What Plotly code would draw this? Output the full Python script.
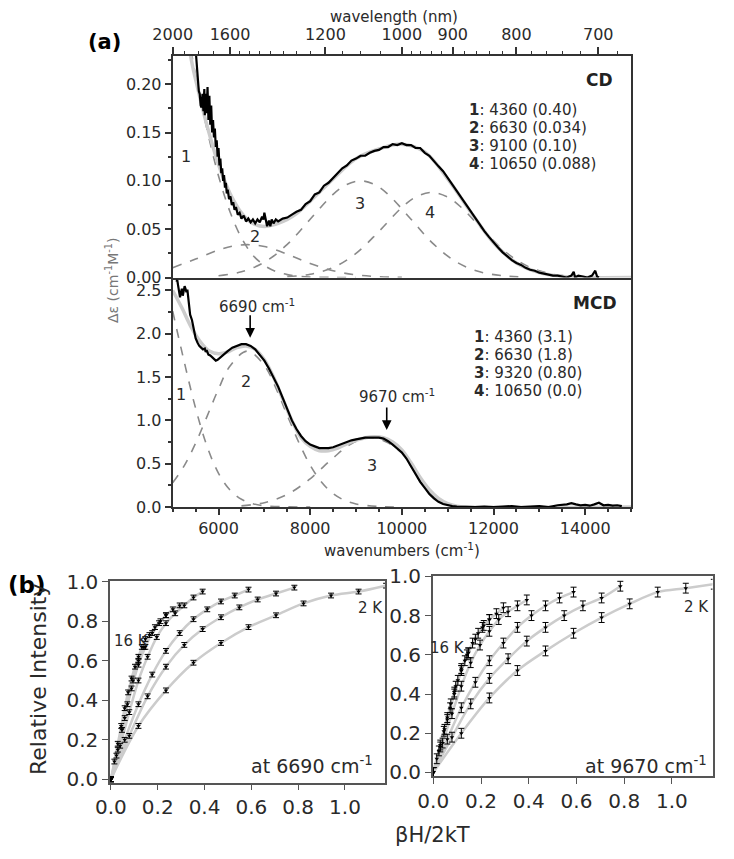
import plotly.graph_objects as go

# page is 734x859; the browser adds an 8 px body margin, so the figure is 16 px smaller
PAGE_W, PAGE_H = 734, 859
OFF = 8
W, H = PAGE_W - 2 * OFF, PAGE_H - 2 * OFF

# ---------------- panel (a) : CD ----------------
cd_wn = [5510, 5530, 5550, 5570, 5590, 5610, 5630, 5650, 5670, 5690, 5700, 5720, 5740, 5760, 5780,
         5800, 5820, 5840, 5860, 5880, 5900, 5920, 5940, 5960, 5980, 6000, 6020, 6040, 6060, 6080,
         6100, 6120, 6140, 6160, 6180, 6200, 6230, 6260, 6290, 6320, 6350, 6380, 6420, 6460, 6500,
         6550, 6600, 6650, 6700, 6750, 6800, 6850, 6900, 6950, 6980, 7000, 7030, 7060, 7100, 7130,
         7160, 7200, 7250, 7300, 7400, 7500, 7600, 7700, 7800, 7900, 8000, 8100, 8200, 8300, 8400,
         8500, 8600, 8700, 8800, 8900, 9000, 9100, 9200, 9300, 9400, 9500, 9600, 9700, 9800, 9900,
         10000, 10100, 10200, 10300, 10400, 10500, 10600, 10700, 10800, 10900, 11000, 11100, 11200,
         11300, 11400, 11500, 11600, 11700, 11800, 11900, 12000, 12100, 12200, 12300, 12400, 12500,
         12600, 12700, 12800, 12900, 13000, 13100, 13200, 13300, 13400, 13500, 13600, 13700, 13750,
         13780, 13850, 13950, 14050, 14150, 14220, 14260, 14300]
cd_val = [0.230, 0.212, 0.205, 0.193, 0.190, 0.178, 0.176, 0.190, 0.172, 0.195, 0.168, 0.190, 0.170, 0.197, 0.163,
          0.188, 0.158, 0.178, 0.150, 0.163, 0.145, 0.154, 0.135, 0.142, 0.125, 0.134, 0.116, 0.123, 0.108, 0.113,
          0.100, 0.106, 0.093, 0.098, 0.087, 0.091, 0.081, 0.084, 0.075, 0.078, 0.070, 0.073, 0.065, 0.067, 0.061,
          0.064, 0.058, 0.061, 0.057, 0.060, 0.056, 0.060, 0.057, 0.063, 0.060, 0.067, 0.059, 0.053, 0.059, 0.053,
          0.060, 0.056, 0.060, 0.058, 0.061, 0.062, 0.065, 0.068, 0.070, 0.076, 0.079, 0.086, 0.088, 0.095, 0.098,
          0.103, 0.107, 0.113, 0.116, 0.121, 0.123, 0.126, 0.126, 0.129, 0.131, 0.132, 0.135, 0.135, 0.138, 0.137,
          0.139, 0.137, 0.137, 0.134, 0.134, 0.129, 0.126, 0.120, 0.115, 0.110, 0.103, 0.096, 0.089,
          0.083, 0.075, 0.068, 0.061, 0.055, 0.048, 0.042, 0.036, 0.031, 0.026, 0.022, 0.018, 0.015,
          0.013, 0.010, 0.008, 0.007, 0.005, 0.004, 0.003, 0.002, 0.002, 0.001, 0.000, 0.002, 0.006,
          0.000, 0.002, 0.001, 0.000, 0.002, 0.007, 0.001, 0.000]

cd_fit_wn = [5380, 5450, 5550, 5650, 5750, 5850, 5950, 6050, 6150, 6250, 6350, 6450, 6550, 6650, 6750,
             6850, 6950, 7050, 7150, 7300, 7500, 7700, 8000, 8500, 9000, 9500, 10000, 10500, 11000,
             11500, 12000, 12500, 13000, 13500, 14000, 15000]
cd_fit_val = [0.232, 0.215, 0.195, 0.175, 0.157, 0.140, 0.124, 0.110, 0.098, 0.087, 0.078, 0.070, 0.064, 0.059, 0.056,
              0.054, 0.053, 0.053, 0.054, 0.056, 0.060, 0.066, 0.079, 0.102, 0.123, 0.133, 0.138, 0.130, 0.102,
              0.068, 0.036, 0.015, 0.005, 0.001, 0.000, 0.000]

cd_b1_wn = [5000, 5250, 5500, 5750, 6000, 6250, 6500, 6750, 7000, 7250, 7500, 7750, 8000, 8500, 9000]
cd_b1 = [0.326, 0.270, 0.210, 0.153, 0.105, 0.068, 0.041, 0.023, 0.0125, 0.0063, 0.003, 0.0013, 0.0005, 0.0001, 0.0]
cd_b2_wn = [5000, 5500, 6000, 6300, 6630, 7000, 7500, 8000, 8500, 9000, 9500, 10000]
cd_b2 = [0.0102, 0.0191, 0.0284, 0.0324, 0.034, 0.0320, 0.0241, 0.0146, 0.0070, 0.0027, 0.0008, 0.0002]
cd_b3_wn = [6000, 6500, 7000, 7500, 8000, 8500, 8800, 9100, 9400, 9700, 10200, 10700, 11200, 11700, 12200, 12700]
cd_b3 = [0.0018, 0.0059, 0.0158, 0.0342, 0.0603, 0.086, 0.0963, 0.100, 0.0963, 0.086, 0.0603, 0.0342, 0.0158, 0.0059, 0.0018, 0.0004]
cd_b4_wn = [7500, 8000, 8500, 9000, 9500, 10000, 10300, 10650, 11000, 11300, 11800, 12300, 12800, 13300, 13800, 14300]
cd_b4 = [0.0009, 0.0034, 0.0103, 0.0249, 0.0477, 0.0724, 0.0832, 0.088, 0.0832, 0.0724, 0.0477, 0.0249, 0.0103, 0.0034, 0.0009, 0.0002]

# ---------------- panel (a) : MCD ----------------
mcd_wn = [5080, 5100, 5120, 5140, 5160, 5180, 5200, 5220, 5240, 5260, 5280, 5300, 5320, 5340, 5360, 5380,
          5420, 5460, 5500, 5540, 5580, 5620, 5660, 5700, 5720, 5740, 5780, 5820, 5860, 5900, 5940, 5980,
          6020, 6100, 6200, 6300, 6400, 6500, 6600, 6700, 6800, 6900, 7000, 7100, 7200, 7300, 7400, 7500,
          7600, 7700, 7800, 7900, 8000, 8100, 8200, 8300, 8400, 8500, 8600, 8700, 8800, 8900, 9000, 9100,
          9200, 9300, 9400, 9500, 9600, 9700, 9800, 9900, 10000, 10100, 10200, 10300, 10400, 10500, 10600,
          10700, 10800, 10900, 11000, 11100, 11200, 11400, 11600, 11800, 12000, 12200, 12400, 12600, 12800,
          13000, 13200, 13400, 13600, 13700, 13800, 13900, 14000, 14100, 14200, 14300, 14400, 14500, 14600,
          14700, 14800]
mcd_val = [2.60, 2.62, 2.55, 2.45, 2.42, 2.48, 2.52, 2.44, 2.50, 2.55, 2.52, 2.48, 2.51, 2.42, 2.30, 2.22,
           2.16, 2.04, 1.95, 1.90, 1.86, 1.84, 1.82, 1.83, 1.79, 1.81, 1.76, 1.75, 1.73, 1.71, 1.69, 1.70,
           1.72, 1.76, 1.80, 1.84, 1.86, 1.88, 1.88, 1.86, 1.82, 1.76, 1.69, 1.60, 1.50, 1.39, 1.26, 1.12,
           1.00, 0.90, 0.82, 0.76, 0.72, 0.70, 0.68, 0.68, 0.68, 0.69, 0.71, 0.73, 0.75, 0.77, 0.78, 0.79,
           0.80, 0.80, 0.80, 0.80, 0.79, 0.76, 0.72, 0.68, 0.63, 0.56, 0.47, 0.38, 0.29, 0.22, 0.15,
           0.10, 0.06, 0.035, 0.02, 0.01, 0.005, 0.002, 0.0, 0.005, 0.0, 0.005, 0.01, 0.0, 0.005,
           0.01, 0.0, 0.02, 0.03, 0.045, 0.03, 0.02, 0.025, 0.015, 0.03, 0.05, 0.02, 0.025, 0.015,
           0.02, 0.01]

mcd_fit_wn = [5000, 5200, 5400, 5600, 5800, 6000, 6200, 6400, 6600, 6800, 7000, 7200, 7400, 7600, 7800,
              8000, 8200, 8400, 8600, 8800, 9000, 9200, 9400, 9600, 9800, 10000, 10200, 10400, 10600,
              10800, 11000, 11200, 11400, 15000]
mcd_fit_val = [2.50, 2.30, 2.08, 1.91, 1.80, 1.77, 1.79, 1.84, 1.86, 1.82, 1.70, 1.50, 1.25, 1.00, 0.80,
               0.70, 0.65, 0.65, 0.68, 0.73, 0.77, 0.80, 0.81, 0.80, 0.75, 0.66, 0.51, 0.34, 0.20,
               0.10, 0.04, 0.01, 0.0, 0.0]

mcd_b1_wn = [5000, 5250, 5500, 5750, 6000, 6250, 6500, 6750, 7000, 7500, 8000]
mcd_b1 = [2.26, 1.68, 1.14, 0.70, 0.389, 0.197, 0.090, 0.038, 0.014, 0.0015, 0.0]
mcd_b2_wn = [5000, 5250, 5500, 5750, 6000, 6250, 6630, 7000, 7250, 7500, 7750, 8000, 8250, 8500, 8750, 9000, 9500, 10000]
mcd_b2 = [0.28, 0.474, 0.736, 1.047, 1.363, 1.627, 1.80, 1.635, 1.375, 1.059, 0.748, 0.483, 0.286, 0.155, 0.077, 0.035, 0.0056, 0.0006]
mcd_b3_wn = [6500, 7000, 7500, 8000, 8500, 8900, 9320, 9700, 10000, 10200, 10400, 10600, 10800, 11000, 11300]
mcd_b3 = [0.013, 0.050, 0.145, 0.326, 0.566, 0.730, 0.80, 0.74, 0.62, 0.47, 0.30, 0.17, 0.08, 0.03, 0.005]

# top axis (wavelength, nm)
wl_major = [2000, 1600, 1200, 1000, 900, 800, 700]
wl_minor = [1900, 1800, 1700, 1550, 1500, 1450, 1400, 1350, 1300, 1250, 1150, 1100, 1050,
            980, 960, 940, 920, 880, 860, 840, 820, 780, 760, 740, 720, 680]

cd_legend = ["<b>1</b>: 4360 (0.40)", "<b>2</b>: 6630 (0.034)", "<b>3</b>: 9100 (0.10)", "<b>4</b>: 10650 (0.088)"]
mcd_legend = ["<b>1</b>: 4360 (3.1)", "<b>2</b>: 6630 (1.8)", "<b>3</b>: 9320 (0.80)", "<b>4</b>: 10650 (0.0)"]

# ---------------- panel (b) : VTVH ----------------
field_T = [0.0, 0.7, 1.4, 2.1, 2.8, 3.5, 4.2, 4.9, 5.6, 6.3, 7.0]
temps_K = [2, 3, 4, 6, 8, 10, 16]
beta_over_2k = 0.3359  # (cm-1/T) / (2 * cm-1/K)

m6690_2K = [0, 0.27, 0.45, 0.59, 0.69, 0.77, 0.83, 0.89, 0.93, 0.95, 0.98]
m6690_3K = [0, 0.22, 0.42, 0.57, 0.68, 0.76, 0.82, 0.87, 0.91, 0.94, 0.97]
m6690_4K = [0, 0.20, 0.38, 0.53, 0.65, 0.74, 0.81, 0.86, 0.90, 0.93, 0.96]
m6690_6K = [0, 0.17, 0.34, 0.50, 0.62, 0.72, 0.79, 0.84, 0.88, 0.92, 0.95]
m6690_8K = [0, 0.15, 0.31, 0.46, 0.58, 0.67, 0.74, 0.79, 0.83, 0.86, 0.88]
m6690_10K = [0, 0.12, 0.25, 0.38, 0.50, 0.60, 0.67, 0.73, 0.77, 0.80, 0.83]
m6690_16K = [0, 0.09, 0.18, 0.27, 0.36, 0.44, 0.51, 0.57, 0.62, 0.67, 0.71]
err6690 = 0.012

m9670_2K = [0, 0.20, 0.38, 0.52, 0.62, 0.71, 0.79, 0.86, 0.92, 0.94, 0.96]
m9670_3K = [0, 0.18, 0.35, 0.48, 0.58, 0.67, 0.74, 0.80, 0.85, 0.89, 0.95]
m9670_4K = [0, 0.17, 0.33, 0.46, 0.57, 0.66, 0.74, 0.80, 0.85, 0.89, 0.92]
m9670_6K = [0, 0.15, 0.30, 0.44, 0.56, 0.65, 0.72, 0.78, 0.82, 0.85, 0.88]
m9670_8K = [0, 0.13, 0.27, 0.40, 0.52, 0.61, 0.68, 0.74, 0.78, 0.81, 0.84]
m9670_10K = [0, 0.11, 0.22, 0.33, 0.44, 0.53, 0.60, 0.66, 0.71, 0.75, 0.78]
m9670_16K = [0, 0.07, 0.14, 0.21, 0.28, 0.35, 0.41, 0.47, 0.52, 0.57, 0.61]
err9670 = 0.025

# ======================================================================
FONT = "DejaVu Sans"
TXT = "#2a2a2a"
AX = "#333333"
GRAYFIT = "#cccccc"
DASH = "#8a8a8a"

fig = go.Figure()

def px2x(p):
    return (p - OFF) / W

def px2y(p):
    return 1 - (p - OFF) / H

# CD traces
for xs, ys in [(cd_b1_wn, cd_b1), (cd_b2_wn, cd_b2), (cd_b3_wn, cd_b3), (cd_b4_wn, cd_b4)]:
    fig.add_trace(go.Scatter(x=xs, y=ys, mode="lines", line=dict(color=DASH, width=1.6, dash="dash", shape="spline"),
                             xaxis="x", yaxis="y", showlegend=False, hoverinfo="skip"))
fig.add_trace(go.Scatter(x=cd_fit_wn, y=cd_fit_val, mode="lines", line=dict(color=GRAYFIT, width=3.5, shape="spline"),
                         xaxis="x", yaxis="y", showlegend=False))
fig.add_trace(go.Scatter(x=cd_wn, y=cd_val, mode="lines", line=dict(color="black", width=2.2),
                         xaxis="x", yaxis="y", showlegend=False))

# MCD traces
for xs, ys in [(mcd_b1_wn, mcd_b1), (mcd_b2_wn, mcd_b2), (mcd_b3_wn, mcd_b3)]:
    fig.add_trace(go.Scatter(x=xs, y=ys, mode="lines", line=dict(color=DASH, width=1.6, dash="dash", shape="spline"),
                             xaxis="x2", yaxis="y2", showlegend=False, hoverinfo="skip"))
fig.add_trace(go.Scatter(x=mcd_fit_wn, y=mcd_fit_val, mode="lines", line=dict(color=GRAYFIT, width=3.5, shape="spline"),
                         xaxis="x2", yaxis="y2", showlegend=False))
fig.add_trace(go.Scatter(x=mcd_wn, y=mcd_val, mode="lines", line=dict(color="black", width=2.2),
                         xaxis="x2", yaxis="y2", showlegend=False))

# invisible traces so that the wavelength axes get drawn
for xa in ["x3", "x6"]:
    fig.add_trace(go.Scatter(x=[5000, 15000], y=[None, None], mode="lines", xaxis=xa, yaxis="y",
                             showlegend=False, hoverinfo="skip"))

# VTVH traces
left_sets = [m6690_2K, m6690_3K, m6690_4K, m6690_6K, m6690_8K, m6690_10K, m6690_16K]
right_sets = [m9670_2K, m9670_3K, m9670_4K, m9670_6K, m9670_8K, m9670_10K, m9670_16K]
for sets, err, xa, ya in [(left_sets, err6690, "x4", "y4"), (right_sets, err9670, "x5", "y5")]:
    for T, ys in zip(temps_K, sets):
        xs = [beta_over_2k * h / T for h in field_T]
        fig.add_trace(go.Scatter(x=xs, y=ys, mode="lines", line=dict(color=GRAYFIT, width=2.5, shape="spline"),
                                 xaxis=xa, yaxis=ya, showlegend=False))
    for T, ys in zip(temps_K, sets):
        xs = [beta_over_2k * h / T for h in field_T]
        fig.add_trace(go.Scatter(x=xs, y=ys, mode="markers",
                                 marker=dict(symbol="triangle-down", size=4, color="black"),
                                 error_y=dict(type="constant", value=err, color="black", thickness=1, width=3),
                                 xaxis=xa, yaxis=ya, showlegend=False, cliponaxis=False))

# ---------------- axes ----------------
xa_dom = [px2x(172.7), px2x(631)]
cd_dom = [px2y(277.5), px2y(55.7)]
mcd_dom = [px2y(507.0), px2y(277.5)]
tickf_a = dict(family=FONT, size=16, color=TXT)
tickf_b = dict(family=FONT, size=20, color=TXT)

common_line = dict(showline=True, linecolor=AX, linewidth=2, showgrid=False, zeroline=False)
b_axis = dict(tickvals=[0, 0.2, 0.4, 0.6, 0.8, 1.0], tickformat=".1f", ticks="outside", ticklen=6,
              tickcolor="#555", tickfont=tickf_b, mirror=True, showline=True, linecolor="#555",
              linewidth=1.5, showgrid=False, zeroline=False, automargin=False)

fig.update_layout(
    xaxis=dict(domain=xa_dom, anchor="y", range=[5000, 15000], showticklabels=False, ticks="",
               automargin=False, **common_line),
    yaxis=dict(domain=cd_dom, anchor="x", range=[0, 0.2295], tickvals=[0, 0.05, 0.10, 0.15, 0.20],
               tickformat=".2f", ticks="outside", ticklen=6, tickwidth=1.5, tickcolor=AX, mirror=True,
               minor=dict(dtick=0.025, tick0=0, ticks="outside", ticklen=3, tickcolor=AX),
               tickfont=tickf_a, automargin=False, **common_line),
    xaxis3=dict(overlaying="x", side="top", anchor="y", range=[5000, 15000],
                tickmode="array", tickvals=[1e7 / w for w in wl_major], ticktext=[str(w) for w in wl_major],
                ticks="outside", ticklen=7, tickwidth=1.5, tickcolor=AX, tickfont=tickf_a,
                automargin=False, **common_line),
    xaxis6=dict(overlaying="x", side="top", anchor="y", range=[5000, 15000],
                tickmode="array", tickvals=[1e7 / w for w in wl_minor], showticklabels=False,
                ticks="outside", ticklen=4, tickwidth=1.2, tickcolor=AX, automargin=False,
                showline=False, showgrid=False, zeroline=False),
    xaxis2=dict(domain=xa_dom, anchor="y2", range=[5000, 15000], tick0=0, dtick=2000, tickformat="d",
                ticks="outside", ticklen=6, tickwidth=1.5, tickcolor=AX, tickfont=tickf_a,
                minor=dict(dtick=500, tick0=0, ticks="outside", ticklen=3, tickcolor=AX),
                automargin=False, **common_line),
    yaxis2=dict(domain=mcd_dom, anchor="x2", range=[0, 2.65], tick0=0, dtick=0.5, tickformat=".1f",
                ticks="outside", ticklen=6, tickwidth=1.5, tickcolor=AX, mirror=True, tickfont=tickf_a,
                minor=dict(dtick=0.25, tick0=0, ticks="outside", ticklen=3, tickcolor=AX),
                automargin=False, **common_line),
    xaxis4=dict(domain=[px2x(110), px2x(385)], anchor="y4", range=[-0.004, 1.171], **b_axis),
    yaxis4=dict(domain=[px2y(782.7), px2y(580.7)], anchor="x4", range=[-0.017, 1.005], **b_axis),
    xaxis5=dict(domain=[px2x(432.8), px2x(712.5)], anchor="y5", range=[-0.002, 1.170], **b_axis),
    yaxis5=dict(domain=[px2y(776), px2y(576.4)], anchor="x5", range=[-0.018, 1.0], **b_axis),
)

# ---------------- annotations ----------------
ann = []

def txt(x, y, s, size=15, bold=False, xanchor="center", color=TXT, angle=0):
    if bold:
        s = "<b>" + s + "</b>"
    ann.append(dict(x=px2x(x), y=px2y(y), xref="paper", yref="paper", text=s, showarrow=False,
                    xanchor=xanchor, yanchor="middle", textangle=angle,
                    font=dict(family=FONT, size=size, color=color)))

txt(394, 17, "wavelength (nm)", 15)
txt(105, 42, "(a)", 21, bold=True, color="black")
txt(112, 280, "Δε (cm<sup>-1</sup>M<sup>-1</sup>)", 14, color="#777", angle=-90)
txt(402, 550, "wavenumbers (cm<sup>-1</sup>)", 15)

txt(599, 80, "CD", 17, bold=True, color="#222")
txt(595, 303, "MCD", 17, bold=True, color="#222")
for i, s in enumerate(cd_legend):
    txt(466.7, 110 + 18 * i, s, 15, xanchor="left")
for i, s in enumerate(mcd_legend):
    txt(471.7, 336.7 + 18.2 * i, s, 15, xanchor="left")

# band labels
for (x, y, s) in [(185.7, 156, "1"), (255, 236.7, "2"), (360, 203.3, "3"), (430, 212.7, "4"),
                  (181, 395, "1"), (245.7, 381.7, "2"), (371.7, 465, "3")]:
    txt(x, y, s, 16)

txt(256.5, 306, "6690 cm<sup>-1</sup>", 15)
txt(397, 396, "9670 cm<sup>-1</sup>", 15)
for wn, v, ay in [(6690, 1.955, -24), (9670, 0.89, -24)]:
    ann.append(dict(x=wn, y=v, xref="x2", yref="y2", text="", showarrow=True, ax=0, ay=ay,
                    arrowhead=2, arrowsize=1.2, arrowwidth=1.6, arrowcolor="black"))

# panel (b)
txt(27, 585, "(b)", 23, bold=True, color="black")
txt(38, 680, "Relative Intensity", 22, angle=-90)
txt(432, 835, "βH/2kT", 21)
txt(131, 641, "16 K", 15)
txt(370, 608, "2 K", 15)
txt(447, 648, "16 K", 15)
txt(696, 607, "2 K", 15)
txt(375, 765, "at 6690 cm<sup>-1</sup>", 19, xanchor="right")
txt(709, 765, "at 9670 cm<sup>-1</sup>", 19, xanchor="right")

fig.update_layout(annotations=ann, width=W, height=H, margin=dict(l=0, r=0, t=0, b=0, pad=0),
                  autosize=False, paper_bgcolor="white", plot_bgcolor="white", showlegend=False,
                  font=dict(family=FONT, color=TXT))

fig.write_html("out.html")
